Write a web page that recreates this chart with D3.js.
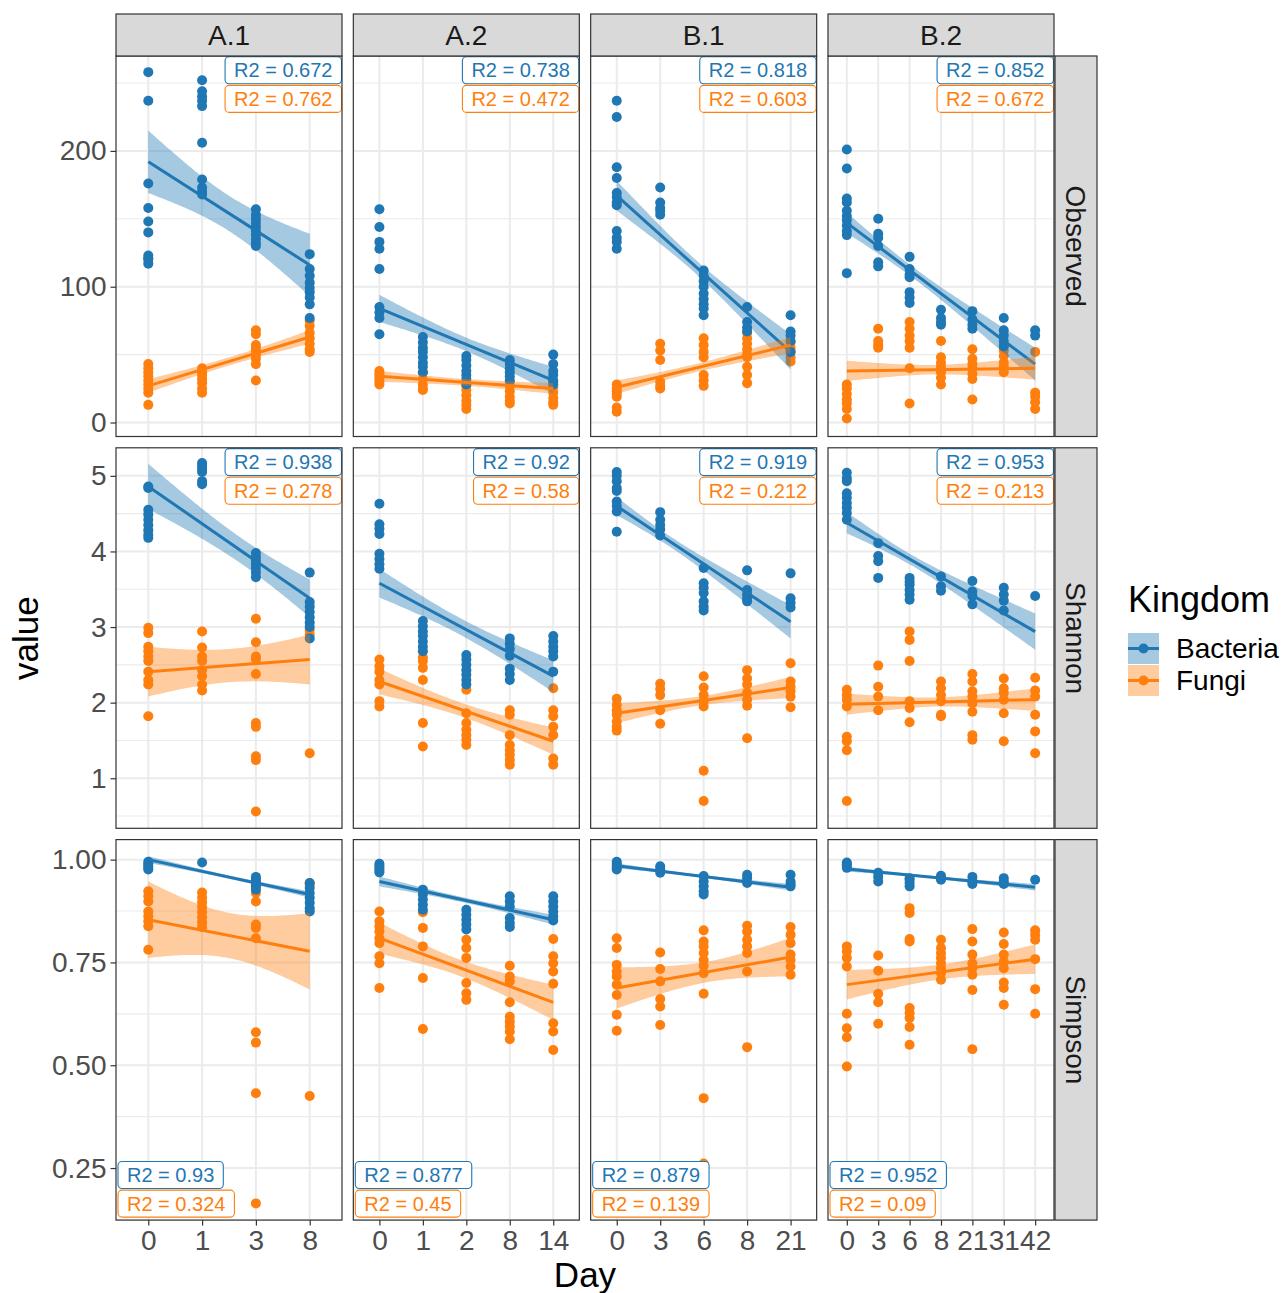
<!DOCTYPE html>
<html><head><meta charset="utf-8">
<script src="https://cdn.jsdelivr.net/npm/d3@7"></script>
<style>body{margin:0;background:#fff}svg{display:block}</style>
</head><body>
<svg id="chart" width="1287" height="1293"></svg>
<script>
// ---- facets, categories ----
const facets = ["A.1", "A.2", "B.1", "B.2"];
const metrics = ["Observed", "Shannon", "Simpson"];
const kingdoms = ["Bacteria", "Fungi"];
const daysA1 = ["0", "1", "3", "8"];
const daysA2 = ["0", "1", "2", "8", "14"];
const daysB1 = ["0", "3", "6", "8", "21"];
const daysB2 = ["0", "3", "6", "8", "21", "31", "42"];

// ---- y axis ticks ----
const ticksObserved = [0, 100, 200];
const ticksShannon = [1, 2, 3, 4, 5];
const ticksSimpson = [0.25, 0.5, 0.75, 1.0];
const domainObserved = [-10.3, 269.9];
const domainShannon = [0.338, 5.371];
const domainSimpson = [0.1234, 1.0487];

// ---- observed richness, one list per day ----
const observedA1Bacteria = [[258,237,176,158,148,140,123,121,120,117],[252,244,240,237,233,206,179,173,170,168],[157,153,150,147,144,141,138,135,132,130],[124,113,108,103,99,96,92,87,77]];
const observedA1Fungi = [[43,40,37,34,31,28,25,22,13],[40,37,35,32,29,25,22],[68,65,57,55,53,50,47,43,31],[75,71,66,62,58,54,52]];
const observedA2Bacteria = [[157,144,133,128,113,85,81,77,65],[63,59,55,52,48,44,41,37],[49,46,42,38,35,32,28],[46,43,40,37,34,31],[50,43,38,35,31,28]];
const observedA2Fungi = [[38,36,34,32,30,28],[37,32,28,25,24],[27,24,20,16,13,10],[30,27,23,19,16,14],[30,26,22,18,15,13]];
const observedB1Bacteria = [[237,225,188,180,169,166,162,160,141,136,133,128],[173,162,158,156,153],[112,108,104,100,95,91,87,84,79],[85,74,70,67],[79,67,64,60,52]];
const observedB1Fungi = [[28,25,23,21,19,11,8],[58,53,46,30,27,25],[62,57,52,48,35,31,27],[66,62,58,54,50,48,41,35,29],[59,55,52,48,45]];
const observedB2Bacteria = [[201,187,165,162,156,152,149,145,141,138,110],[150,139,136,130,118,115],[122,113,109,107,96,92,88],[83,77,74,72],[82,76,72,69],[77,68,64,60,56],[68,64]];
const observedB2Fungi = [[28,25,21,17,14,10,3],[69,60,57,55],[74,69,64,60,55,40,14],[60,48,44,41,37,33,28],[54,47,43,40,36,32,17],[57,53,49,44,41,37],[52,22,19,15,10]];

// ---- Shannon index ----
const shannonA1Bacteria = [[4.86,4.84,4.55,4.49,4.42,4.35,4.28,4.22,4.18],[5.17,5.13,5.09,5.05,4.93,4.89],[3.98,3.93,3.88,3.83,3.78,3.72,3.66],[3.72,3.33,3.27,3.2,3.13,3.06,3.0,2.85]];
const shannonA1Fungi = [[2.99,2.92,2.74,2.68,2.61,2.55,2.41,2.3,2.24,1.82],[2.94,2.73,2.61,2.55,2.43,2.35,2.24,2.16],[3.11,2.8,2.61,2.57,2.38,1.73,1.68,1.29,1.24,0.56],[2.96,2.9,1.33]];
const shannonA2Bacteria = [[4.63,4.36,4.3,4.23,3.97,3.9,3.83,3.77],[3.08,3.01,2.94,2.88,2.81,2.74,2.68],[2.63,2.57,2.5,2.43,2.37,2.3,2.24],[2.85,2.78,2.71,2.62,2.45,2.38,2.3],[2.88,2.81,2.74,2.68,2.61,2.41]];
const shannonA2Fungi = [[2.57,2.48,2.41,2.3,2.24,2.02,1.95],[2.6,2.55,2.46,2.3,1.73,1.42],[2.17,1.86,1.73,1.64,1.57,1.51,1.44],[1.9,1.84,1.57,1.44,1.37,1.31,1.24,1.18],[2.19,1.9,1.82,1.68,1.57,1.26,1.18]];
const shannonB1Bacteria = [[5.05,5.0,4.93,4.84,4.8,4.66,4.6,4.53,4.26],[4.52,4.42,4.35,4.29,4.21],[3.78,3.58,3.52,3.45,3.34,3.27,3.22],[3.75,3.49,3.43,3.38,3.34],[3.71,3.38,3.32,3.26]];
const shannonB1Fungi = [[2.05,1.97,1.9,1.84,1.75,1.68,1.63],[2.25,2.18,2.1,1.9,1.72],[2.35,2.2,2.1,2.02,1.95,1.1,0.7],[2.43,2.32,2.24,2.13,2.04,1.96,1.53],[2.52,2.28,2.21,2.15,2.08,1.94]];
const shannonB2Bacteria = [[5.04,4.97,4.93,4.77,4.71,4.64,4.58,4.51,4.42],[4.11,3.94,3.87,3.65],[3.65,3.6,3.56,3.49,3.43,3.36],[3.67,3.54,3.48],[3.61,3.47,3.41,3.3],[3.52,3.43,3.35,3.22],[3.41]];
const shannonB2Fungi = [[2.17,2.1,2.04,1.95,1.55,1.49,1.37,0.7],[2.49,2.21,2.08,1.9],[2.94,2.83,2.55,2.02,1.93,1.74],[2.28,2.19,2.1,2.02,1.84,1.82],[2.38,2.28,2.15,2.08,1.99,1.88,1.57,1.51],[2.32,2.19,2.13,2.04,1.86,1.49],[2.33,2.16,2.08,1.84,1.62,1.33]];

// ---- Simpson index ----
const simpsonA1Bacteria = [[0.995,0.99,0.985,0.98,0.976],[0.993],[0.958,0.953,0.947,0.941,0.935,0.927],[0.943,0.931,0.919,0.907,0.895,0.882,0.874]];
const simpsonA1Fungi = [[0.923,0.911,0.898,0.874,0.862,0.85,0.838,0.781],[0.92,0.908,0.896,0.884,0.872,0.86,0.848,0.836],[0.939,0.919,0.898,0.842,0.834,0.809,0.58,0.555,0.432,0.164],[0.943,0.938,0.425]];
const simpsonA2Bacteria = [[0.99,0.985,0.98,0.975,0.969],[0.927,0.915,0.903,0.89,0.878],[0.878,0.866,0.854,0.842,0.83],[0.911,0.898,0.886,0.858,0.846,0.836],[0.911,0.898,0.886,0.874,0.862,0.852]];
const simpsonA2Fungi = [[0.874,0.85,0.838,0.825,0.809,0.797,0.765,0.748,0.688],[0.872,0.834,0.789,0.712,0.588],[0.805,0.785,0.761,0.7,0.675,0.659],[0.742,0.716,0.704,0.653,0.618,0.606,0.594,0.582,0.563],[0.807,0.765,0.748,0.728,0.698,0.602,0.582,0.537]];
const simpsonB1Bacteria = [[0.995,0.99,0.985,0.98,0.976],[0.984,0.976,0.968],[0.96,0.947,0.935,0.923,0.915],[0.963,0.955,0.943],[0.963,0.947,0.94,0.935]];
const simpsonB1Fungi = [[0.809,0.785,0.744,0.728,0.716,0.696,0.671,0.623,0.584],[0.774,0.734,0.704,0.661,0.643,0.598],[0.828,0.801,0.789,0.773,0.756,0.742,0.724,0.674,0.42,0.261],[0.839,0.825,0.805,0.789,0.773,0.728,0.544],[0.836,0.817,0.797,0.769,0.756,0.74,0.72]];
const simpsonB2Bacteria = [[0.993,0.988,0.985,0.98],[0.968,0.958,0.947],[0.955,0.951,0.943,0.935],[0.961,0.955,0.951],[0.958,0.947,0.941],[0.955,0.947,0.941],[0.951]];
const simpsonB2Fungi = [[0.789,0.777,0.761,0.74,0.625,0.59,0.568,0.497],[0.767,0.73,0.674,0.653,0.601],[0.882,0.87,0.807,0.801,0.639,0.627,0.615,0.593,0.55],[0.805,0.785,0.773,0.761,0.748,0.736,0.724,0.708],[0.831,0.801,0.769,0.748,0.736,0.72,0.683,0.539],[0.823,0.795,0.769,0.752,0.736,0.701,0.688,0.647],[0.828,0.817,0.805,0.758,0.685,0.625]];

// ---- linear fits: [value at first day, value at last day, CI half-width at first, narrowest, last] ----
const fitObservedBacteria = [[192,116,23,13,23],[84,31,10,5,10],[167,52,11,5,13],[147,43,7.5,4,12]];
const fitObservedFungi = [[27,63,5,3,5],[34,25,4,2.5,4],[26,57,5,3,6],[38,40,7.5,3.5,8.5]];
const fitShannonBacteria = [[4.86,3.38,0.3,0.17,0.25],[3.58,2.35,0.19,0.11,0.21],[4.6,3.07,0.12,0.07,0.22],[4.38,2.94,0.14,0.07,0.24]];
const fitShannonFungi = [[2.41,2.57,0.33,0.22,0.33],[2.28,1.49,0.17,0.09,0.18],[1.86,2.2,0.13,0.06,0.14],[1.98,2.04,0.14,0.06,0.15]];
const fitSimpsonBacteria = [[1.0,0.915,0.008,0.004,0.008],[0.947,0.854,0.012,0.006,0.012],[0.985,0.933,0.006,0.003,0.008],[0.977,0.933,0.006,0.003,0.008]];
const fitSimpsonFungi = [[0.854,0.777,0.093,0.055,0.093],[0.809,0.653,0.038,0.02,0.043],[0.688,0.763,0.05,0.025,0.047],[0.696,0.758,0.036,0.018,0.036]];

// ---- R2 of each fit ----
const r2ObservedBacteria = [0.672, 0.738, 0.818, 0.852];
const r2ObservedFungi = [0.762, 0.472, 0.603, 0.672];
const r2ShannonBacteria = [0.938, 0.92, 0.919, 0.953];
const r2ShannonFungi = [0.278, 0.58, 0.212, 0.213];
const r2SimpsonBacteria = [0.93, 0.877, 0.879, 0.952];
const r2SimpsonFungi = [0.324, 0.45, 0.139, 0.09];

// ---- assemble lookup tables ----
const daysByFacet = [daysA1, daysA2, daysB1, daysB2];
const points = {
  Observed: [[observedA1Bacteria, observedA1Fungi],[observedA2Bacteria, observedA2Fungi],[observedB1Bacteria, observedB1Fungi],[observedB2Bacteria, observedB2Fungi]],
  Shannon: [[shannonA1Bacteria, shannonA1Fungi],[shannonA2Bacteria, shannonA2Fungi],[shannonB1Bacteria, shannonB1Fungi],[shannonB2Bacteria, shannonB2Fungi]],
  Simpson: [[simpsonA1Bacteria, simpsonA1Fungi],[simpsonA2Bacteria, simpsonA2Fungi],[simpsonB1Bacteria, simpsonB1Fungi],[simpsonB2Bacteria, simpsonB2Fungi]]
};
const fits = {
  Observed: [fitObservedBacteria, fitObservedFungi],
  Shannon: [fitShannonBacteria, fitShannonFungi],
  Simpson: [fitSimpsonBacteria, fitSimpsonFungi]
};
const r2 = {
  Observed: [r2ObservedBacteria, r2ObservedFungi],
  Shannon: [r2ShannonBacteria, r2ShannonFungi],
  Simpson: [r2SimpsonBacteria, r2SimpsonFungi]
};
const yTicks = { Observed: ticksObserved, Shannon: ticksShannon, Simpson: ticksSimpson };
const yDomains = { Observed: domainObserved, Shannon: domainShannon, Simpson: domainSimpson };
const yFormats = { Observed: d3.format("d"), Shannon: d3.format("d"), Simpson: d3.format(".2f") };

// ---- layout ----
const FONT = "'Liberation Sans', Arial, Helvetica, sans-serif";
const color = d3.scaleOrdinal().domain(kingdoms).range(["#1f77b4", "#ff7f0e"]);
const panelW = 226, panelH = 380.5;
const colLeft = i => 116 + i * 237.33;
const rowTop = r => 56 + r * 391.8;
const stripTop = 14, stripH = 42;
const stripRightX = 1055, stripW = 42;
const pointR = 5;

const svg = d3.select("#chart").style("font-family", FONT);
svg.append("rect").attr("width", 1287).attr("height", 1293).attr("fill", "#fff");

const xScales = daysByFacet.map((days, c) =>
  d3.scalePoint().domain(days).range([colLeft(c), colLeft(c) + panelW]).padding(0.6));
const yScales = {};
metrics.forEach((m, r) => {
  yScales[m] = d3.scaleLinear().domain(yDomains[m]).range([rowTop(r) + panelH, rowTop(r)]);
});

// confidence band half-width along the fitted line, t in [0,1]
function halfWidth(fit, t) {
  const [, , hs, hm, he] = fit;
  const p = Math.sqrt(Math.max(hs * hs - hm * hm, 0));
  const q = Math.sqrt(Math.max(he * he - hm * hm, 0));
  const d = (p + q) * t - p;
  return Math.sqrt(hm * hm + d * d);
}

metrics.forEach((m, r) => {
  const y = yScales[m];
  const top = rowTop(r), bottom = top + panelH;
  const [y0, y1] = yDomains[m];
  const ticks = yTicks[m];
  const step = ticks[1] - ticks[0];
  // minor gridline positions: midpoints between majors, inside the panel
  const minor = [];
  for (let v = ticks[0] - step / 2; v <= y1; v += step) if (v >= y0) minor.push(v);

  facets.forEach((f, c) => {
    const x = xScales[c];
    const days = daysByFacet[c];
    const left = colLeft(c), right = left + panelW;
    const g = svg.append("g");

    g.append("rect").attr("x", left).attr("y", top).attr("width", panelW).attr("height", panelH).attr("fill", "#fff");

    g.selectAll(".minor").data(minor).join("line")
      .attr("x1", left).attr("x2", right).attr("y1", d => y(d)).attr("y2", d => y(d))
      .attr("stroke", "#ebebeb").attr("stroke-width", 1.1);
    g.selectAll(".major").data(ticks).join("line")
      .attr("x1", left).attr("x2", right).attr("y1", d => y(d)).attr("y2", d => y(d))
      .attr("stroke", "#ebebeb").attr("stroke-width", 2);
    g.selectAll(".vgrid").data(days).join("line")
      .attr("x1", d => x(d)).attr("x2", d => x(d)).attr("y1", top).attr("y2", bottom)
      .attr("stroke", "#ebebeb").attr("stroke-width", 2);

    // points: fungi first, bacteria on top
    [1, 0].forEach(k => {
      const series = points[m][c][k];
      const flat = [];
      series.forEach((vals, di) => vals.forEach(v => flat.push({ day: days[di], v })));
      g.append("g").selectAll("circle").data(flat).join("circle")
        .attr("cx", d => x(d.day)).attr("cy", d => y(d.v)).attr("r", pointR)
        .attr("fill", color(kingdoms[k]));
    });

    // fitted lines with confidence bands
    const idx = d3.scaleLinear().domain([0, 1]).range([x(days[0]), x(days[days.length - 1])]);
    [0, 1].forEach(k => {
      const fit = fits[m][k][c];
      const ts = d3.range(0, 80).map(i => i / 79);
      const centre = t => fit[0] + (fit[1] - fit[0]) * t;
      const band = d3.area()
        .x(t => idx(t))
        .y0(t => y(centre(t) - halfWidth(fit, t)))
        .y1(t => y(centre(t) + halfWidth(fit, t)));
      g.append("path").attr("d", band(ts)).attr("fill", color(kingdoms[k])).attr("fill-opacity", 0.4);
      const line = d3.line().x(t => idx(t)).y(t => y(centre(t)));
      g.append("path").attr("d", line([0, 1])).attr("fill", "none")
        .attr("stroke", color(kingdoms[k])).attr("stroke-width", 3);
    });

    // R2 labels
    const labels = [0, 1].map(k => ({ k, text: "R2 = " + r2[m][k][c] }));
    const boxH = 27;
    labels.forEach((lab, i) => {
      const t = g.append("text").attr("font-size", 20).attr("fill", color(kingdoms[lab.k])).text(lab.text);
      const w = t.node().getComputedTextLength() + 18;
      let bx, by;
      if (r < 2) {
        bx = right - 0.5 - w;
        by = top + 0.8 + i * 28.6;
      } else {
        bx = left + 2;
        by = bottom - 3 - boxH - (1 - i) * 28.6;
      }
      g.insert("rect", () => t.node())
        .attr("x", bx).attr("y", by).attr("width", w).attr("height", boxH)
        .attr("rx", 4).attr("fill", "#fff").attr("stroke", color(kingdoms[lab.k])).attr("stroke-width", 1.1);
      t.attr("x", bx + 9).attr("y", by + boxH / 2 + 7);
    });

    g.append("rect").attr("x", left).attr("y", top).attr("width", panelW).attr("height", panelH)
      .attr("fill", "none").attr("stroke", "#333333").attr("stroke-width", 1.2);

    // strips
    if (r === 0) {
      svg.append("rect").attr("x", left).attr("y", stripTop).attr("width", panelW).attr("height", stripH)
        .attr("fill", "#d9d9d9").attr("stroke", "#333333").attr("stroke-width", 1.2);
      svg.append("text").attr("x", left + panelW / 2).attr("y", stripTop + stripH / 2).attr("dy", "0.35em")
        .attr("text-anchor", "middle").attr("font-size", 28).attr("fill", "#1a1a1a").text(f);
    }
    // x axis on the bottom row
    if (r === 2) {
      const ax = svg.append("g").attr("transform", `translate(0,${bottom})`)
        .call(d3.axisBottom(x).tickSize(5.5).tickPadding(5));
      ax.select(".domain").remove();
      ax.selectAll(".tick line").attr("stroke", "#333333").attr("stroke-width", 1.2);
      ax.selectAll(".tick text").attr("font-size", 28).attr("fill", "#4d4d4d").attr("font-family", FONT);
    }
  });

  // right strip
  svg.append("rect").attr("x", stripRightX).attr("y", top).attr("width", stripW).attr("height", panelH)
    .attr("fill", "#d9d9d9").attr("stroke", "#333333").attr("stroke-width", 1.2);
  svg.append("text").attr("transform", `translate(${stripRightX + stripW / 2},${top + panelH / 2}) rotate(90)`)
    .attr("dy", "0.35em").attr("text-anchor", "middle").attr("font-size", 28).attr("fill", "#1a1a1a").text(m);

  // y axis on the first column
  const ay = svg.append("g").attr("transform", `translate(${colLeft(0)},0)`)
    .call(d3.axisLeft(y).tickValues(ticks).tickFormat(yFormats[m]).tickSize(5.5).tickPadding(4));
  ay.select(".domain").remove();
  ay.selectAll(".tick line").attr("stroke", "#333333").attr("stroke-width", 1.2);
  ay.selectAll(".tick text").attr("font-size", 28).attr("fill", "#4d4d4d").attr("font-family", FONT);
});

// axis titles
svg.append("text").attr("x", (colLeft(0) + colLeft(3) + panelW) / 2).attr("y", 1287)
  .attr("text-anchor", "middle").attr("font-size", 35).attr("fill", "#000").text("Day");
svg.append("text").attr("transform", `translate(38,${(rowTop(0) + rowTop(2) + panelH) / 2}) rotate(-90)`)
  .attr("text-anchor", "middle").attr("font-size", 35).attr("fill", "#000").text("value");

// legend
const lg = svg.append("g");
lg.append("text").attr("x", 1128).attr("y", 612).attr("font-size", 36).attr("fill", "#000").text("Kingdom");
kingdoms.forEach((k, i) => {
  const ky = 633 + i * 32, ks = 31;
  lg.append("rect").attr("x", 1128).attr("y", ky).attr("width", ks).attr("height", ks)
    .attr("fill", color(k)).attr("fill-opacity", 0.4);
  lg.append("line").attr("x1", 1128).attr("x2", 1128 + ks).attr("y1", ky + ks / 2).attr("y2", ky + ks / 2)
    .attr("stroke", color(k)).attr("stroke-width", 3);
  lg.append("circle").attr("cx", 1128 + ks / 2).attr("cy", ky + ks / 2).attr("r", pointR).attr("fill", color(k));
  lg.append("text").attr("x", 1176).attr("y", ky + ks / 2).attr("dy", "0.35em")
    .attr("font-size", 28).attr("fill", "#000").text(k);
});
</script>
</body></html>
